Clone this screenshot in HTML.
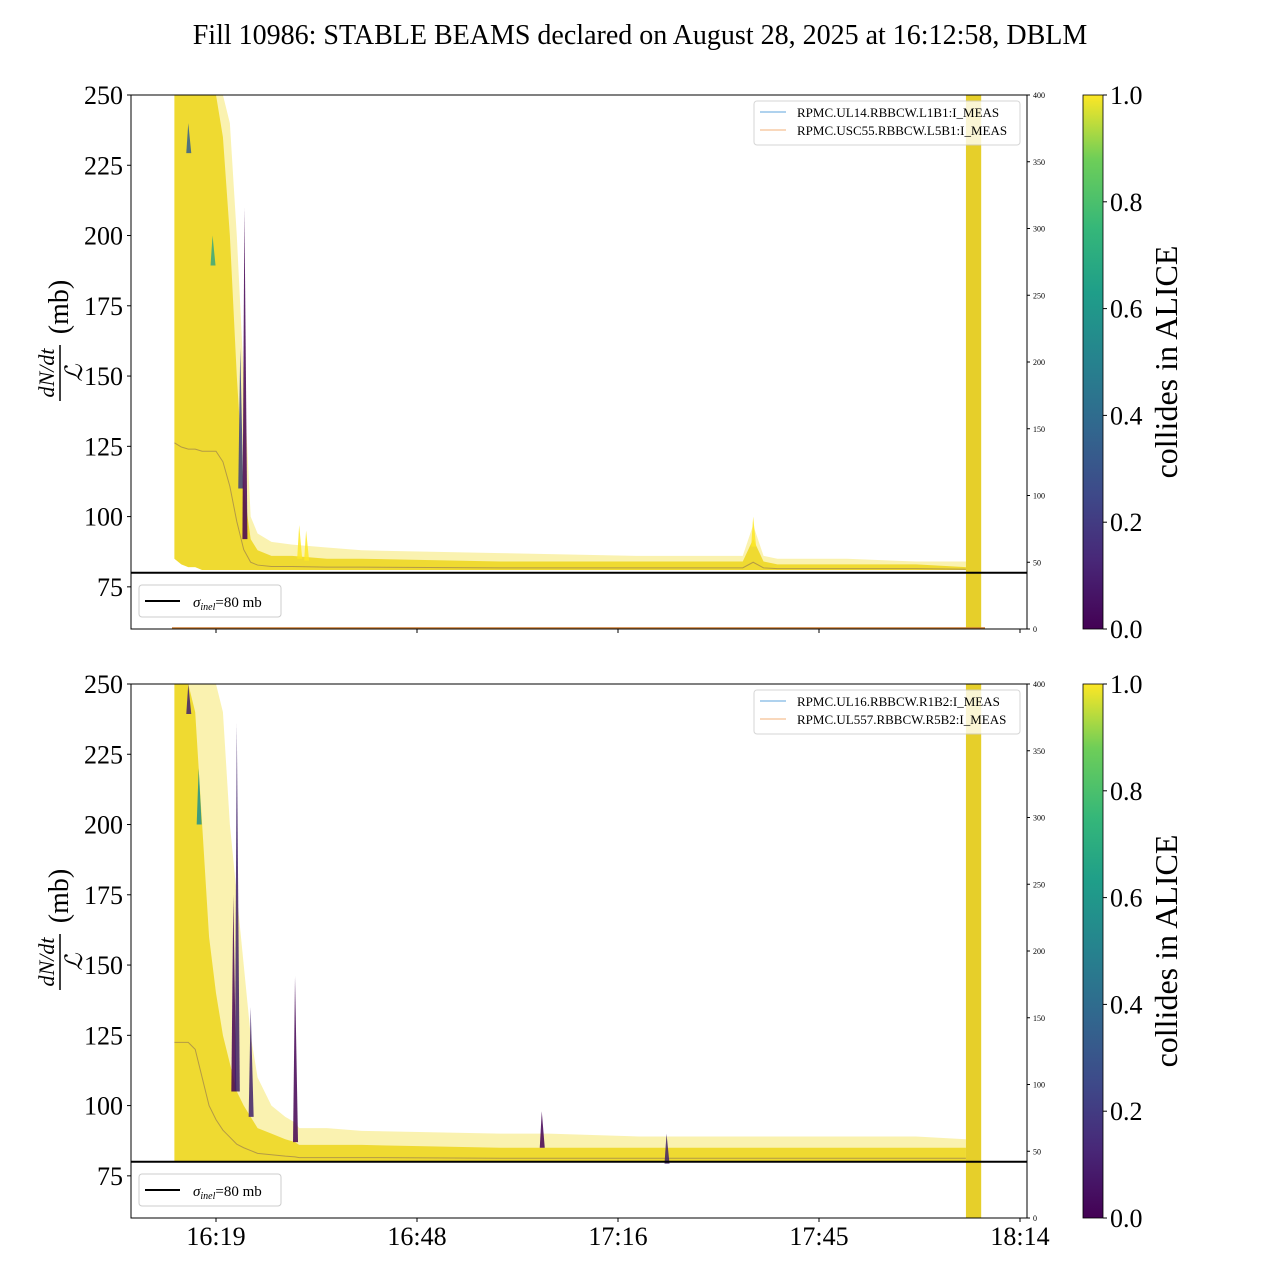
<!DOCTYPE html>
<html><head><meta charset="utf-8"><style>
body{margin:0;background:#fff}
svg{display:block;font-family:"Liberation Serif",serif}
</style></head><body>
<svg id="c" width="1280" height="1280" viewBox="0 0 1280 1280" xmlns="http://www.w3.org/2000/svg">
<defs>
<linearGradient id="vir" x1="0" y1="1" x2="0" y2="0">
<stop offset="0" stop-color="#440154"/><stop offset="0.13" stop-color="#482878"/><stop offset="0.25" stop-color="#3e4989"/><stop offset="0.38" stop-color="#31688e"/><stop offset="0.5" stop-color="#26828e"/><stop offset="0.63" stop-color="#1f9e89"/><stop offset="0.75" stop-color="#35b779"/><stop offset="0.88" stop-color="#6ece58"/><stop offset="1" stop-color="#fde725"/>
</linearGradient>
</defs>
<text x="640" y="44" font-size="28" text-anchor="middle">Fill 10986: STABLE BEAMS declared on August 28, 2025 at 16:12:58, DBLM</text>
<g id="p1"></g><g id="p2"></g>
</svg>
<script>
// x values: minutes after 16:00
const xTickLabels=["16:19","16:48","17:16","17:45","18:14"];
const xTickMinutes=[19,48,77,106,135];
const yTicks=[75,100,125,150,175,200,225,250];
const rTicks=[0,50,100,150,200,250,300,350,400];
const cbTicks=[0.0,0.2,0.4,0.6,0.8,1.0];
const sigmaInel=80;
const stableBandStart=[127.2,127.2];
const stableBandEnd=[129.4,129.4];
// panel 1 envelopes
const times1=[13,14,15,16,17,18,19,20,21,22,23,24,25,27,30,35,40,60,80,95,96.5,98,100,110,120,127.2];
const upper1=[250,250,250,250,250,250,250,250,240,200,150,100,94,91,90,89,88,87,86,86,97,86,85,85,84,84];
const core1=[250,250,250,250,250,250,250,235,200,150,110,92,88,86,86,85,85,84,84,84,92,84,83,83,83,82];
const lower1=[85,83,82,82,81,81,81,81,81,81,81,81,81,81,81,81,81,81,81,81,81,81,81,81,81,81];
const spikeT1=[15,18.5,22.5,23.1,31,32,96.5];
const spikePeak1=[240,200,160,210,97,95,100];
const spikeColor1=[0.3,0.6,0.2,0.0,1,1,1];
const legend1=["RPMC.UL14.RBBCW.L1B1:I_MEAS","RPMC.USC55.RBBCW.L5B1:I_MEAS"];
// panel 2 envelopes
const times2=[13,14,15,16,17,18,19,20,21,22,23,24,25,27,29,30.4,31,35,40,60,66,67,80,100,110,120,127.2];
const upper2=[250,250,250,250,250,250,250,240,200,175,150,125,110,100,96,94,92,92,91,90,90,90,89,89,89,89,88];
const core2=[250,250,250,240,200,160,140,125,115,105,100,96,92,90,88,87,86,86,86,85,85,85,85,85,85,85,85];
const lower2=[80,80,80,80,80,80,80,80,80,80,80,80,80,80,80,80,80,80,80,80,80,80,80,80,80,80,80];
const spikeT2=[15,16.5,21.5,22,24,30.4,66,84];
const spikePeak2=[250,220,175,236,135,146,98,90];
const spikeColor2=[0.1,0.5,0.0,0.1,0.1,0.0,0.0,0.1];
const legend2=["RPMC.UL16.RBBCW.R1B2:I_MEAS","RPMC.UL557.RBBCW.R5B2:I_MEAS"];

const NS="http://www.w3.org/2000/svg";
const X0=131,X1=1027;
function xS(m){return 216+(m-19)*(201/29);}
function mk(tag,attrs,parent){const e=document.createElementNS(NS,tag);for(const k in attrs)e.setAttribute(k,attrs[k]);parent.appendChild(e);return e;}
function vir(t){const s=[[68,1,84],[59,82,139],[33,145,140],[94,201,98],[253,231,37]];const f=t*4,i=Math.min(3,Math.floor(f)),r=f-i;const a=s[i],b=s[i+1];return `rgb(${a.map((v,j)=>Math.round(v+(b[j]-v)*r)).join(',')})`;}

function panel(g,top,times,upper,core,lower,spT,spP,spC,leg,showX,idx){
  const bot=top+534;
  const yS=v=>top+(250-v)*(534/190);
  const rS=v=>bot-v*(534/400);
  const clip=mk('clipPath',{id:'cl'+idx},g);mk('rect',{x:X0,y:top,width:X1-X0,height:534},clip);
  const d=mk('g',{'clip-path':`url(#cl${idx})`},g);
  
  
  let pts=times.map((t,i)=>xS(t)+','+yS(upper[i])).concat(times.slice().reverse().map((t,j)=>xS(t)+','+yS(lower[times.length-1-j])));
  const ob=mk('polygon',{points:pts.join(' '),fill:'#f6e870',opacity:0.55},d);
  
  
  pts=times.map((t,i)=>xS(t)+','+yS(core[i])).concat(times.slice().reverse().map((t,j)=>xS(t)+','+yS(lower[times.length-1-j])));
  const cb=mk('polygon',{points:pts.join(' '),fill:'#eed82a',opacity:0.95},d);
  
  
  const ml=mk('polyline',{points:times.map((t,i)=>xS(t)+','+yS((core[i]+lower[i]*3)/4)).join(' '),fill:'none',stroke:'#7a5a5a','stroke-width':1,opacity:0.5},d);
  
  
  spT.forEach((t,i)=>{
    const x=xS(t);
    const base=yS(core[Math.max(0,times.findIndex(v=>v>=t))]||90);
    const s=mk('polygon',{points:`${x-2},${Math.max(base,yS(spP[i])+30)} ${x},${yS(spP[i])} ${x+3},${Math.max(base,yS(spP[i])+30)}`,fill:vir(spC[i]),opacity:0.85},d);
    
    
  });
  const sb=mk('rect',{x:xS(stableBandStart[idx-1]),y:top,width:xS(stableBandEnd[idx-1])-xS(stableBandStart[idx-1]),height:534,fill:'#e6cf2a'},d);
  
  
  const sl=mk('line',{x1:X0,x2:X1,y1:yS(sigmaInel),y2:yS(sigmaInel),stroke:'#000','stroke-width':2},g);
  
  
  if(idx===1){mk('line',{x1:172,x2:985,y1:bot-1,y2:bot-1,stroke:'#c87a30','stroke-width':1.5},g);}
  const fr=mk('rect',{x:X0,y:top,width:X1-X0,height:534,fill:'none',stroke:'#000','stroke-width':1},g);
  
  
  yTicks.forEach(v=>{const y=yS(v);mk('line',{x1:X0-4,x2:X0,y1:y,y2:y,stroke:'#000'},g);
    const t=mk('text',{x:X0-8,y:y+9,'font-size':26,'text-anchor':'end'},g);t.textContent=v;
    });
  rTicks.forEach(v=>{const y=rS(v);mk('line',{x1:X1,x2:X1+3,y1:y,y2:y,stroke:'#000'},g);
    const t=mk('text',{x:X1+6,y:y+3,'font-size':8},g);t.textContent=v;
    });
  xTickMinutes.forEach((m,i)=>{const x=xS(m);mk('line',{x1:x,x2:x,y1:bot,y2:bot+4,stroke:'#000'},g);
    if(showX){const t=mk('text',{x:x,y:bot+27,'font-size':26,'text-anchor':'middle'},g);t.textContent=xTickLabels[i];
    }});
  const yl=mk('g',{transform:`translate(60,${top+260}) rotate(-90)`},g);
  
  
  let t=mk('text',{x:-18,y:-6,'font-size':22,'font-style':'italic','text-anchor':'middle'},yl);t.textContent='dN/dt';
  mk('line',{x1:-46,x2:10,y1:0,y2:0,stroke:'#000','stroke-width':1.5},yl);
  t=mk('text',{x:-18,y:22,'font-size':24,'font-style':'italic','text-anchor':'middle'},yl);t.textContent='ℒ';
  t=mk('text',{x:48,y:8,'font-size':28,'text-anchor':'middle'},yl);t.textContent='(mb)';
  const lg=mk('g',{},g);
  
  
  mk('rect',{x:139,y:bot-44,width:142,height:32,rx:3,fill:'#fff',stroke:'#ccc'},lg);
  mk('line',{x1:145,x2:180,y1:bot-28,y2:bot-28,stroke:'#000','stroke-width':2},lg);
  t=mk('text',{x:193,y:bot-22,'font-size':15},lg);
  t.innerHTML='<tspan font-style="italic">σ</tspan><tspan font-style="italic" font-size="10" dy="3">inel</tspan><tspan dy="-3">=80 mb</tspan>';
  const lg2=mk('g',{},g);
  
  
  mk('rect',{x:754,y:top+6,width:266,height:44,rx:3,fill:'#fff',stroke:'#ccc',opacity:0.8},lg2);
  const cols=['#5fa6dc','#f3b27a'];
  leg.forEach((s,i)=>{const y=top+17+i*18;mk('line',{x1:760,x2:786,y1:y,y2:y,stroke:cols[i]},lg2);
    const tt=mk('text',{x:797,y:y+5,'font-size':13},lg2);tt.textContent=s;});
  const cbg=mk('g',{},g);
  
  
  mk('rect',{x:1083,y:top,width:20,height:534,fill:'url(#vir)',stroke:'#000','stroke-width':0.8},cbg);
  cbTicks.forEach(v=>{const y=bot-v*534;mk('line',{x1:1103,x2:1107,y1:y,y2:y,stroke:'#000'},cbg);
    const tt=mk('text',{x:1110,y:y+9,'font-size':26},cbg);tt.textContent=v.toFixed(1);});
  t=mk('text',{x:0,y:0,'font-size':32,'text-anchor':'middle',transform:`translate(1177,${top+267}) rotate(-90)`},cbg);t.textContent='collides in ALICE';
}
panel(document.getElementById('p1'),95,times1,upper1,core1,lower1,spikeT1,spikePeak1,spikeColor1,legend1,false,1);
panel(document.getElementById('p2'),684,times2,upper2,core2,lower2,spikeT2,spikePeak2,spikeColor2,legend2,true,2);
</script>
</body></html>
